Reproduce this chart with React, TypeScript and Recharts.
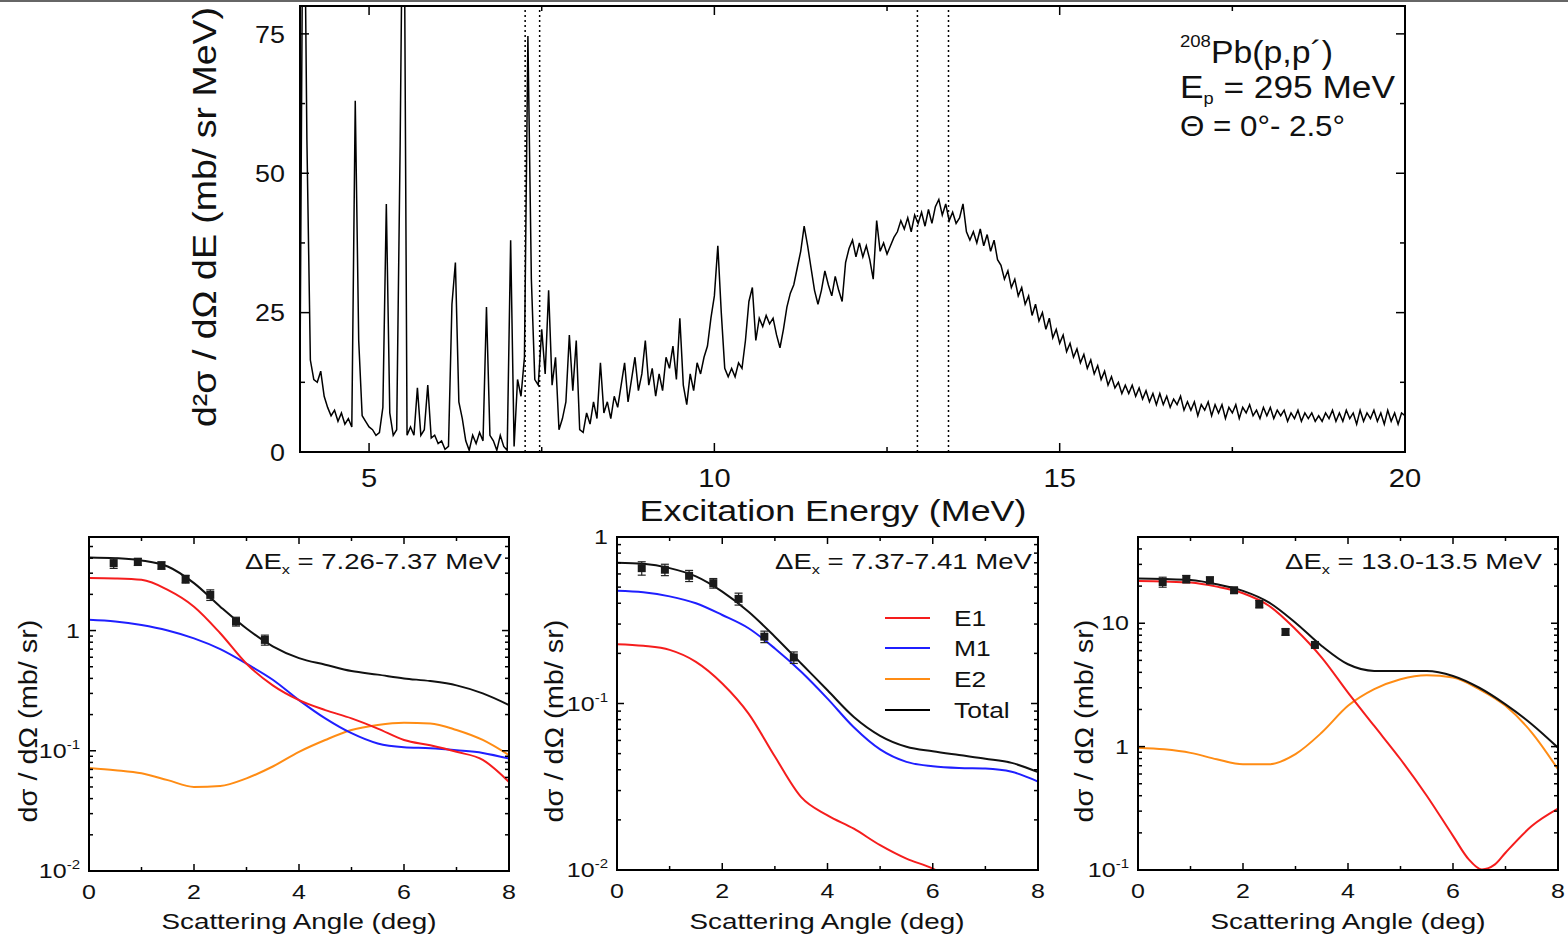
import React from 'react';
import {
  ComposedChart,
  Line,
  Scatter,
  XAxis,
  YAxis,
  ReferenceLine,
  ErrorBar,
} from 'recharts';

const FONT = '"Liberation Sans", Arial, Helvetica, sans-serif';

// ---------- top panel: 208Pb(p,p') spectrum, 0.05 MeV bins from 4 MeV ----------
const binStart = 4;
const binWidth = 0.05;
const counts = [
  // 4.00 - 4.95
  14, 120, 56, 16.5, 13, 12.5, 14.5, 10, 8, 6.5, 7.5, 5.5, 7, 5, 6, 4.5, 63, 20, 6.5, 5.5,
  // 5.00 - 5.95
  4.5, 4, 3, 3.5, 8, 44.5, 7, 3, 4, 55, 120, 3, 4.5, 3, 11.5, 3, 4, 12, 2.5, 3,
  // 6.00 - 6.95
  1.5, 2, 0.5, 1, 26.5, 34, 9, 6, 2, 0.3, 3, 1.5, 3.5, 2, 26, 3, 2, 0.3, 3, 1,
  // 7.00 - 7.95
  0.3, 38, 1, 13, 10, 17, 74.6, 31, 13, 12, 22, 14, 29, 12, 17, 4, 6, 9, 21, 11,
  // 8.00 - 8.95
  20, 4, 3.5, 7, 5, 9, 6, 16, 7, 9, 6, 10, 8, 12, 16, 9, 13, 17, 11, 14,
  // 9.00 - 9.95
  20, 12, 15, 10, 14, 11, 17, 15, 19, 13, 24, 12, 8.5, 14, 11, 16, 14, 17, 19, 24,
  // 10.00 - 10.95
  28, 37, 25, 15, 13.5, 15, 13.5, 16, 15, 20, 27, 29.5, 20, 24, 22.5, 24.5, 23, 24, 21, 18.7,
  // 11.00 - 11.95
  22, 26, 28.5, 30, 33, 36, 40.5, 37, 33, 29, 26.5, 29, 32.5, 30, 28, 31.5, 29, 27, 34, 36.5,
  // 12.00 - 12.95
  38, 35, 37.5, 35, 37, 34.5, 31, 41.5, 36, 37.5, 35.5, 37, 38.5, 39.5, 41.5, 40, 42, 39.5, 42.5, 41,
  // 13.00 - 13.95
  43, 40.5, 43.5, 41, 44, 45.3, 42.5, 44.5, 41.5, 43, 41, 42, 44.5, 39.5, 38, 39.5, 37.5, 40, 37, 39,
  // 14.00 - 14.95
  36, 38, 34.5, 33.5, 31, 32.5, 29.5, 31, 28, 29.5, 26.5, 28, 24.5, 26.5, 23.5, 25, 22, 24, 20.5, 22,
  // 15.00 - 15.95
  19.5, 21, 18, 19.5, 17, 18.5, 16, 17.5, 15, 16.5, 14, 15.5, 13, 14.5, 12, 13.5, 11.5, 12.5, 10.5, 12,
  // 16.00 - 16.95
  10.5, 12, 10, 11.5, 9.5, 11, 9, 10.5, 8.5, 10.5, 8.5, 10, 8, 9.5, 8.5, 10, 7.5, 9, 7.5, 9,
  // 17.00 - 17.95
  6.5, 8.5, 7.5, 9, 6.5, 8.5, 7, 8.5, 6, 8, 7, 8.5, 6, 8, 7, 8.5, 6.5, 7.5, 6, 8,
  // 18.00 - 18.95
  6.5, 8, 6, 7.5, 6.5, 7.5, 5.5, 7, 6, 7.5, 5.5, 7, 6, 7, 5.5, 6.5, 5.5, 7, 6, 7.5,
  // 19.00 - 19.95
  5.5, 7, 5.5, 7.5, 6, 7, 5, 7.5, 5.5, 7, 6, 7.5, 5.5, 7, 5, 7.5, 5.5, 7, 5, 7,
  // 20.00
  6.5,
];
const windowEdges = [7.26, 7.47, 12.94, 13.39];
const energyTicks = [5, 7.5, 10, 12.5, 15, 17.5, 20];
const energyLabels = [5, 10, 15, 20];
const yieldTicks = [0, 12.5, 25, 37.5, 50, 62.5, 75];
const yieldLabels = [0, 25, 50, 75];

const spectrum = counts.map((c, i) => ({
  e: Math.round((binStart + i * binWidth) * 100) / 100,
  c,
}));

// ---------- bottom panels: angular distributions ----------
const angles = [0, 0.5, 1, 1.5, 2, 2.5, 3, 3.5, 4, 4.5, 5, 5.5, 6, 6.5, 7, 7.5, 8];
const angleTicks = [0, 1, 2, 3, 4, 5, 6, 7, 8];
const angleLabels = [0, 2, 4, 6, 8];

// 7.26-7.37 MeV
const p1Total = [4.06, 4.0, 3.83, 3.41, 2.48, 1.58, 1.04, 0.74, 0.59, 0.52, 0.46, 0.43, 0.4, 0.38, 0.35, 0.3, 0.24];
const p1E1 = [2.73, 2.71, 2.64, 2.18, 1.58, 0.95, 0.53, 0.35, 0.264, 0.218, 0.186, 0.153, 0.123, 0.111, 0.098, 0.084, 0.055];
const p1M1 = [1.23, 1.19, 1.11, 1.0, 0.86, 0.7, 0.53, 0.39, 0.264, 0.186, 0.14, 0.115, 0.107, 0.105, 0.101, 0.096, 0.086];
const p1E2 = [0.072, 0.069, 0.065, 0.057, 0.05, 0.051, 0.059, 0.074, 0.098, 0.123, 0.149, 0.164, 0.171, 0.169, 0.149, 0.123, 0.092];
const p1PtAngles = [0.47, 0.93, 1.38, 1.84, 2.31, 2.8, 3.35];
const p1PtValues = [3.64, 3.73, 3.48, 2.68, 1.98, 1.19, 0.836];
const p1PtErrors = [0.35, 0.25, 0.25, 0.2, 0.2, 0.1, 0.08];

// 7.37-7.41 MeV
const p2Total = [0.7, 0.69, 0.65, 0.58, 0.47, 0.356, 0.252, 0.174, 0.12, 0.083, 0.064, 0.055, 0.0516, 0.049, 0.0466, 0.044, 0.0387];
const p2M1 = [0.475, 0.465, 0.44, 0.4, 0.34, 0.283, 0.214, 0.155, 0.107, 0.072, 0.053, 0.0446, 0.042, 0.041, 0.0407, 0.0389, 0.034];
const p2E1 = [0.227, 0.222, 0.21, 0.178, 0.132, 0.087, 0.048, 0.0274, 0.0213, 0.0177, 0.0141, 0.0117, 0.0102, 0.0082];
const p2PtAngles = [0.47, 0.91, 1.37, 1.83, 2.31, 2.8, 3.36];
const p2PtValues = [0.65, 0.636, 0.585, 0.528, 0.425, 0.252, 0.189];
const p2PtErrors = [0.06, 0.05, 0.045, 0.035, 0.035, 0.02, 0.015];

// 13.0-13.5 MeV
const p3Total = [23.0, 22.8, 22.4, 20.7, 18.3, 14.7, 10.1, 6.55, 4.65, 4.11, 4.11, 4.11, 3.74, 3.0, 2.2, 1.52, 0.98];
const p3E2 = [0.98, 0.95, 0.89, 0.79, 0.72, 0.72, 0.87, 1.3, 2.14, 2.92, 3.52, 3.79, 3.63, 2.92, 2.14, 1.3, 0.655];
const p3E1Angles = [0, 0.5, 1, 1.5, 2, 2.5, 3, 3.5, 4, 4.5, 5, 5.5, 6, 6.3, 6.55, 6.8, 7, 7.5, 8];
const p3E1 = [22.0, 21.8, 21.4, 19.8, 17.5, 13.8, 8.94, 5.27, 2.74, 1.47, 0.79, 0.4, 0.189, 0.122, 0.101, 0.111, 0.138, 0.227, 0.314];
const p3PtAngles = [0.47, 0.92, 1.37, 1.83, 2.31, 2.81, 3.37];
const p3PtValues = [21.6, 22.8, 22.3, 18.5, 14.3, 8.5, 6.67];
const p3PtErrors = [2.0, 1.6, 1.4, 1.0, 1.0, 0.5, 0.35];

const logTicksP1 = [0.01, 0.02, 0.03, 0.04, 0.05, 0.06, 0.07, 0.08, 0.09, 0.1, 0.2, 0.3, 0.4, 0.5, 0.6, 0.7, 0.8, 0.9, 1, 2, 3, 4, 5, 6];
const logTicksP2 = [0.01, 0.02, 0.03, 0.04, 0.05, 0.06, 0.07, 0.08, 0.09, 0.1, 0.2, 0.3, 0.4, 0.5, 0.6, 0.7, 0.8, 0.9, 1];
const logTicksP3 = [0.1, 0.2, 0.3, 0.4, 0.5, 0.6, 0.7, 0.8, 0.9, 1, 2, 3, 4, 5, 6, 7, 8, 9, 10, 20, 30, 40, 50];

const RED = '#f51d1d';
const BLUE = '#1f1fff';
const ORANGE = '#ff8c14';

const toSeries = (xs: number[], ys: number[]) => ys.map((v, i) => ({ a: xs[i], v }));
const toPoints = (xs: number[], ys: number[], es: number[]) =>
  ys.map((v, i) => ({ a: xs[i], v, err: es[i] }));

type Geo = { left: number; right: number; top: number; bottom: number };
type TickOpts = { major: number; minor: number; gap: number; size: number; sx: number };

const logLabel = (v: number, size: number) => {
  if (v >= 1) return <>{v}</>;
  const exp = Math.round(Math.log10(v));
  return (
    <>
      10
      <tspan dy={-size * 0.45} fontSize={size * 0.6}>
        {exp}
      </tspan>
    </>
  );
};

const makeXTick = (g: Geo, labels: number[], o: TickOpts) => (p: any) => {
  const v = p.payload.value;
  const x = p.x;
  const isMajor = labels.includes(v);
  const len = isMajor ? o.major : o.minor;
  return (
    <g>
      <line x1={x} x2={x} y1={g.bottom} y2={g.bottom - len} stroke="#000" strokeWidth={1.5} />
      <line x1={x} x2={x} y1={g.top} y2={g.top + len} stroke="#000" strokeWidth={1.5} />
      {isMajor && (
        <text
          transform={`translate(${x},${g.bottom + o.gap}) scale(${o.sx},1)`}
          textAnchor="middle"
          fontSize={o.size}
          fontFamily={FONT}
          fill="#111"
        >
          {v}
        </text>
      )}
    </g>
  );
};

const makeYTick = (g: Geo, labels: number[], o: TickOpts, log: boolean) => (p: any) => {
  const v = p.payload.value;
  const y = p.y;
  const isMajor = labels.includes(v);
  const len = isMajor ? o.major : o.minor;
  return (
    <g>
      <line x1={g.left} x2={g.left + len} y1={y} y2={y} stroke="#000" strokeWidth={1.5} />
      <line x1={g.right} x2={g.right - len} y1={y} y2={y} stroke="#000" strokeWidth={1.5} />
      {isMajor && (
        <text
          transform={`translate(${g.left - o.gap},${y + o.size * 0.36}) scale(${o.sx},1)`}
          textAnchor="end"
          fontSize={o.size}
          fontFamily={FONT}
          fill="#111"
        >
          {log ? logLabel(v, o.size) : v}
        </text>
      )}
    </g>
  );
};

// ---------- top chart ----------
const topGeo: Geo = { left: 300, right: 1405, top: 6, bottom: 452 };
const topX = makeXTick(topGeo, energyLabels, { major: 9, minor: 5, gap: 35, size: 26, sx: 1.12 });
const topY = makeYTick(topGeo, yieldLabels, { major: 9, minor: 5, gap: 15, size: 24, sx: 1.12 }, false);

const SpectrumChart = () => (
  <div style={{ position: 'absolute', left: 0, top: 0 }}>
    <ComposedChart
      width={1568}
      height={530}
      data={spectrum}
      margin={{ top: 6, right: 163, bottom: 38, left: 240 }}
    >
      <XAxis
        dataKey="e"
        type="number"
        domain={[4, 20]}
        allowDataOverflow
        ticks={energyTicks}
        interval={0}
        tick={topX}
        tickLine={false}
        axisLine={false}
        height={40}
      />
      <YAxis
        type="number"
        domain={[0, 80]}
        allowDataOverflow
        ticks={yieldTicks}
        interval={0}
        tick={topY}
        tickLine={false}
        axisLine={false}
        width={60}
      />
      {windowEdges.map((e) => (
        <ReferenceLine key={e} x={e} stroke="#000" strokeWidth={1.5} strokeDasharray="2 3" />
      ))}
      <Line
        dataKey="c"
        type="linear"
        dot={false}
        stroke="#000"
        strokeWidth={1.5}
        isAnimationActive={false}
      />
    </ComposedChart>
  </div>
);

// ---------- bottom charts ----------
type SeriesDef = { data: { a: number; v: number }[]; color: string };

type PanelProps = {
  plotLeft: number;
  plotW: number;
  plotH: number;
  yDomain: [number, number];
  yTicks: number[];
  yLabels: number[];
  series: SeriesDef[];
  points: { a: number; v: number; err: number }[];
};

const PANEL_TOP = 520;
const PANEL_H = 420;
const Y_AXIS_W = 80;

const AnglePanel = ({ plotLeft, plotW, plotH, yDomain, yTicks, yLabels, series, points }: PanelProps) => {
  const g: Geo = { left: Y_AXIS_W, right: Y_AXIS_W + plotW, top: 17, bottom: 17 + plotH };
  const xt = makeXTick(g, angleLabels, { major: 7, minor: 4, gap: 28, size: 20, sx: 1.25 });
  const yt = makeYTick(g, yLabels, { major: 7, minor: 4, gap: 9, size: 20, sx: 1.25 }, true);
  return (
    <div style={{ position: 'absolute', left: plotLeft - Y_AXIS_W, top: PANEL_TOP }}>
      <ComposedChart
        width={plotW + Y_AXIS_W + 10}
        height={PANEL_H}
        margin={{ top: 17, right: 10, left: 0, bottom: PANEL_H - 17 - plotH - 60 }}
      >
        <XAxis
          dataKey="a"
          type="number"
          domain={[0, 8]}
          allowDataOverflow
          ticks={angleTicks}
          interval={0}
          tick={xt}
          tickLine={false}
          axisLine={false}
          height={60}
        />
        <YAxis
          type="number"
          scale="log"
          domain={yDomain}
          allowDataOverflow
          ticks={yTicks}
          interval={0}
          tick={yt}
          tickLine={false}
          axisLine={false}
          width={Y_AXIS_W}
        />
        {series.map((s, i) => (
          <Line
            key={i}
            data={s.data}
            dataKey="v"
            type="monotone"
            stroke={s.color}
            strokeWidth={2}
            dot={false}
            isAnimationActive={false}
          />
        ))}
        <Scatter data={points} dataKey="v" shape="square" fill="#1a1a1a" isAnimationActive={false}>
          <ErrorBar dataKey="err" direction="y" width={4} stroke="#222" strokeWidth={1.2} />
        </Scatter>
      </ComposedChart>
    </div>
  );
};

// ---------- overlay texts and frames ----------
const stretch = { lengthAdjust: 'spacingAndGlyphs' as const };

const DeltaLabel = ({ x, range }: { x: number; range: string }) => (
  <text x={x} y={569} fontSize={22} fontFamily={FONT} fill="#111" textLength={257} {...stretch}>
    ΔE
    <tspan fontSize={13} dy={5}>
      x
    </tspan>
    <tspan dy={-5}>{` = ${range} MeV`}</tspan>
  </text>
);

const AngleTitle = ({ cx }: { cx: number }) => (
  <text x={cx} y={929} textAnchor="middle" fontSize={22} fontFamily={FONT} fill="#111" textLength={275} {...stretch}>
    Scattering Angle (deg)
  </text>
);

const SigmaTitle = ({ x }: { x: number }) => (
  <text
    transform={`translate(${x},721) rotate(-90) scale(1,1.2)`}
    textAnchor="middle"
    fontSize={22}
    fontFamily={FONT}
    fill="#111"
    textLength={203}
    {...stretch}
  >
    dσ / dΩ  (mb/ sr)
  </text>
);

const legendItems = [
  { name: 'E1', color: RED, y: 618 },
  { name: 'M1', color: BLUE, y: 648 },
  { name: 'E2', color: ORANGE, y: 679 },
  { name: 'Total', color: '#000', y: 710 },
];

const Overlay = () => (
  <svg
    width={1568}
    height={939}
    style={{ position: 'absolute', left: 0, top: 0, pointerEvents: 'none' }}
  >
    <line x1={0} x2={1568} y1={1} y2={1} stroke="#333" strokeWidth={1.5} />
    {/* frames */}
    <rect x={300} y={6} width={1105} height={446} fill="none" stroke="#000" strokeWidth={2} />
    <rect x={89} y={537} width={420} height={334} fill="none" stroke="#000" strokeWidth={2} />
    <rect x={617} y={537} width={421} height={333} fill="none" stroke="#000" strokeWidth={2} />
    <rect x={1138} y={537} width={420} height={333} fill="none" stroke="#000" strokeWidth={2} />

    {/* top panel titles */}
    <text
      transform="translate(216,217) rotate(-90)"
      textAnchor="middle"
      fontSize={33}
      fontFamily={FONT}
      fill="#111"
      textLength={420}
      {...stretch}
    >
      d²σ / dΩ dE (mb/ sr MeV)
    </text>
    <text x={833} y={521} textAnchor="middle" fontSize={30} fontFamily={FONT} fill="#111" textLength={387} {...stretch}>
      Excitation Energy (MeV)
    </text>
    <text x={1180} y={63} fontSize={31} fontFamily={FONT} fill="#111" textLength={153} {...stretch}>
      <tspan fontSize={17} dy={-16}>
        208
      </tspan>
      <tspan dy={16}>Pb(p,p´)</tspan>
    </text>
    <text x={1180} y={98} fontSize={31} fontFamily={FONT} fill="#111" textLength={215} {...stretch}>
      E
      <tspan fontSize={16} dy={6}>
        p
      </tspan>
      <tspan dy={-6}>{' = 295 MeV'}</tspan>
    </text>
    <text x={1180} y={136} fontSize={30} fontFamily={FONT} fill="#111" textLength={165} {...stretch}>
      Θ = 0°- 2.5°
    </text>

    {/* bottom panel titles */}
    <DeltaLabel x={245} range="7.26-7.37" />
    <DeltaLabel x={775} range="7.37-7.41" />
    <DeltaLabel x={1285} range="13.0-13.5" />
    <AngleTitle cx={299} />
    <AngleTitle cx={827} />
    <AngleTitle cx={1348} />
    <SigmaTitle x={37} />
    <SigmaTitle x={563} />
    <SigmaTitle x={1093} />

    {/* legend */}
    {legendItems.map((it) => (
      <g key={it.name}>
        <line x1={885} x2={930} y1={it.y} y2={it.y} stroke={it.color} strokeWidth={2} />
        <text
          transform={`translate(954,${it.y + 8}) scale(1.2,1)`}
          fontSize={22}
          fontFamily={FONT}
          fill="#111"
        >
          {it.name}
        </text>
      </g>
    ))}
  </svg>
);

export default function App() {
  return (
    <div
      style={{
        position: 'absolute',
        left: 0,
        top: 0,
        width: 1568,
        height: 939,
        background: '#fff',
        fontFamily: FONT,
        overflow: 'hidden',
      }}
    >
      <SpectrumChart />
      <AnglePanel
        plotLeft={89}
        plotW={420}
        plotH={334}
        yDomain={[0.01, 6]}
        yTicks={logTicksP1}
        yLabels={[0.01, 0.1, 1]}
        series={[
          { data: toSeries(angles, p1E2), color: ORANGE },
          { data: toSeries(angles, p1M1), color: BLUE },
          { data: toSeries(angles, p1E1), color: RED },
          { data: toSeries(angles, p1Total), color: '#111' },
        ]}
        points={toPoints(p1PtAngles, p1PtValues, p1PtErrors)}
      />
      <AnglePanel
        plotLeft={617}
        plotW={421}
        plotH={333}
        yDomain={[0.01, 1]}
        yTicks={logTicksP2}
        yLabels={[0.01, 0.1, 1]}
        series={[
          { data: toSeries(angles, p2M1), color: BLUE },
          { data: toSeries(angles, p2E1), color: RED },
          { data: toSeries(angles, p2Total), color: '#111' },
        ]}
        points={toPoints(p2PtAngles, p2PtValues, p2PtErrors)}
      />
      <AnglePanel
        plotLeft={1138}
        plotW={420}
        plotH={333}
        yDomain={[0.1, 50]}
        yTicks={logTicksP3}
        yLabels={[0.1, 1, 10]}
        series={[
          { data: toSeries(angles, p3E2), color: ORANGE },
          { data: toSeries(p3E1Angles, p3E1), color: RED },
          { data: toSeries(angles, p3Total), color: '#111' },
        ]}
        points={toPoints(p3PtAngles, p3PtValues, p3PtErrors)}
      />
      <Overlay />
    </div>
  );
}
